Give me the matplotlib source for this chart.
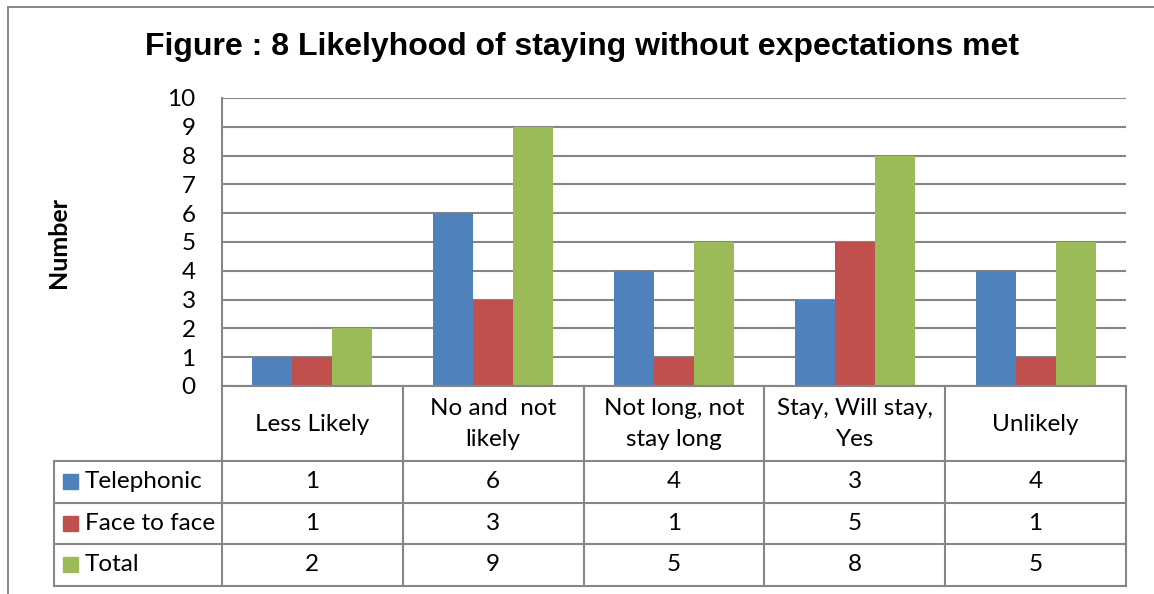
import numpy as np
import matplotlib.pyplot as plt
from matplotlib.patches import Rectangle
from matplotlib.lines import Line2D

categories = ['Less Likely', 'No and  not\nlikely', 'Not long, not\nstay long',
              'Stay, Will stay,\nYes', 'Unlikely']
series = ['Telephonic', 'Face to face', 'Total']
telephonic = [1, 6, 4, 3, 4]
face_to_face = [1, 3, 1, 5, 1]
total = [2, 9, 5, 8, 5]
values = [telephonic, face_to_face, total]
colors = ['#4F81BD', '#C0504D', '#9BBB59']
y_ticks = list(range(0, 11))

W, H = 1154, 594
grey = '#868686'
body_font = 'Lato'
fs = 17.5

fig = plt.figure(figsize=(W / 100, H / 100), dpi=100)

# outer chart frame (only left and top edges are visible)
fig.add_artist(Line2D([8 / W, 8 / W], [0, 1 - 7 / H], color=grey, lw=1.4))
fig.add_artist(Line2D([8 / W, 1], [1 - 7 / H, 1 - 7 / H], color=grey, lw=1.4))

fig.text(582 / W, 1 - 47 / H, 'Figure : 8 Likelyhood of staying without expectations met',
         ha='center', va='center', fontsize=23, fontweight='bold',
         family='Liberation Sans')

# bar chart
ax = fig.add_axes([222 / W, 1 - 386 / H, (1126 - 222) / W, (386 - 98) / H])
x = np.arange(len(categories))
bw = 0.221
for k in range(len(series)):
    ax.bar(x + (k - 1) * bw, values[k], width=bw, color=colors[k], zorder=3)
ax.set_xlim(-0.5, len(categories) - 0.5)
ax.set_ylim(0, 10)
ax.set_yticks(y_ticks)
ax.set_yticklabels([str(t) for t in y_ticks], family=body_font, fontsize=fs)
ax.set_xticks([])
ax.tick_params(axis='y', length=0, pad=19)
ax.yaxis.grid(True, color=grey, lw=1.5)
ax.set_axisbelow(True)
for s in ['top', 'right', 'bottom']:
    ax.spines[s].set_visible(False)
ax.spines['left'].set_color(grey)
ax.spines['left'].set_linewidth(1.5)

fig.text(59 / W, 1 - 242 / H, 'Number', rotation=90, ha='center', va='center',
         fontsize=18, fontweight='bold', family=body_font)

# data table below the chart
col_w = 180.8
x_left = -0.5 - (222 - 54) / col_w
tax = fig.add_axes([54 / W, 1 - 586 / H, (1126 - 54) / W, (586 - 386) / H])
tax.set_xlim(x_left, len(categories) - 0.5)
tax.set_ylim(586, 386)
tax.axis('off')

row_edges = [386, 460.5, 502.5, 544, 585.5]
lw = 1.5
tax.plot([-0.5, len(categories) - 0.5], [row_edges[0]] * 2, color=grey, lw=lw, clip_on=False)
for yy in row_edges[1:]:
    tax.plot([x_left, len(categories) - 0.5], [yy, yy], color=grey, lw=lw, clip_on=False)
for k in range(len(categories) + 1):
    tax.plot([k - 0.5, k - 0.5], [row_edges[0], row_edges[-1]], color=grey, lw=lw, clip_on=False)
tax.plot([x_left, x_left], [row_edges[1], row_edges[-1]], color=grey, lw=lw, clip_on=False)

head_y = (row_edges[0] + row_edges[1]) / 2 + 1
for i, cat in enumerate(categories):
    tax.text(i, head_y, cat, ha='center', va='center', fontsize=fs,
             family=body_font, linespacing=1.6)

sq = 15
for k, name in enumerate(series):
    yc = (row_edges[k + 1] + row_edges[k + 2]) / 2
    tax.add_patch(Rectangle((x_left + 9 / col_w, yc - sq / 2), sq / col_w, sq,
                            color=colors[k], clip_on=False))
    tax.text(x_left + 31 / col_w, yc, name, ha='left', va='center', fontsize=fs,
             family=body_font)
    for i, v in enumerate(values[k]):
        tax.text(i, yc, str(v), ha='center', va='center', fontsize=fs, family=body_font)

fig.savefig('out.png', dpi=100)
